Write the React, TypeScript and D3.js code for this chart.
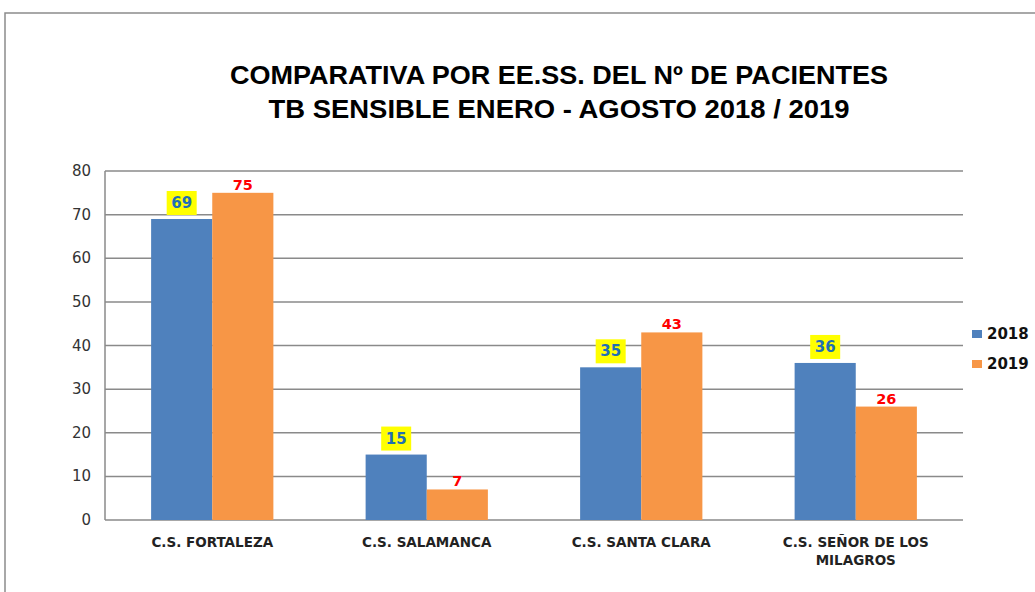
import React, { useEffect, useRef } from "react";
import * as d3 from "d3";

const categories = ["C.S. FORTALEZA", "C.S. SALAMANCA", "C.S. SANTA CLARA", "C.S. SEÑOR DE LOS|MILAGROS"];
const seriesNames = ["2018", "2019"];
const values2018 = [69, 15, 35, 36];
const values2019 = [75, 7, 43, 26];
const yTicks = [0, 10, 20, 30, 40, 50, 60, 70, 80];
const titleLines = ["COMPARATIVA POR EE.SS. DEL Nº DE PACIENTES", "TB SENSIBLE ENERO - AGOSTO 2018 / 2019"];

const colors = ["#4f81bd", "#f79646"];

const App = () => {
    const svgRef = useRef<SVGSVGElement>(null);

    useEffect(() => {
        const width = 1035;
        const height = 592;
        const svg = d3.select(svgRef.current);
        svg.selectAll("*").remove();

        // marco del gráfico
        svg.append("path")
            .attr("d", `M5,${height} L5,13 L${width},13`)
            .attr("fill", "none")
            .attr("stroke", "#8c8c8c")
            .attr("stroke-width", 1.5);

        // título (ancho ajustado al original)
        const titleWidths = [658, 581];
        svg.selectAll("text.title")
            .data(titleLines)
            .enter().append("text")
            .attr("class", "title")
            .attr("x", (d, i) => 559 - titleWidths[i] / 2)
            .attr("y", (d, i) => 84 + i * 34)
            .attr("textLength", (d, i) => titleWidths[i])
            .attr("lengthAdjust", "spacingAndGlyphs")
            .attr("font-family", "'Liberation Sans Narrow', 'Arial Narrow', sans-serif")
            .attr("font-weight", "bold")
            .attr("font-size", 26)
            .attr("fill", "#000")
            .text(d => d);

        const left = 105, right = 963, top = 171, bottom = 520;

        const x = d3.scaleBand()
            .domain(categories)
            .range([left, right])
            .paddingInner(0.43)
            .paddingOuter(0.215);

        const x1 = d3.scaleBand()
            .domain(seriesNames)
            .range([0, x.bandwidth()]);

        const y = d3.scaleLinear()
            .domain([0, 80])
            .range([bottom, top]);

        // líneas de cuadrícula
        svg.selectAll("line.grid")
            .data(yTicks)
            .enter().append("line")
            .attr("class", "grid")
            .attr("x1", left)
            .attr("x2", right)
            .attr("y1", d => y(d))
            .attr("y2", d => y(d))
            .attr("stroke", "#8a8a8a")
            .attr("stroke-width", 1.5);

        svg.append("line")
            .attr("x1", left).attr("x2", left)
            .attr("y1", top).attr("y2", bottom)
            .attr("stroke", "#8a8a8a")
            .attr("stroke-width", 1.5);

        // etiquetas eje Y
        svg.selectAll("text.ytick")
            .data(yTicks)
            .enter().append("text")
            .attr("class", "ytick")
            .attr("x", 91)
            .attr("y", d => y(d) + 5)
            .attr("text-anchor", "end")
            .attr("font-family", "'DejaVu Sans', Verdana, sans-serif")
            .attr("font-size", 15)
            .attr("fill", "#333")
            .text(d => d);

        const series = [values2018, values2019];

        // barras
        series.forEach((vals, si) => {
            svg.selectAll(`rect.bar${si}`)
                .data(vals)
                .enter().append("rect")
                .attr("class", `bar${si}`)
                .attr("x", (d, i) => (x(categories[i]) as number) + (x1(seriesNames[si]) as number))
                .attr("y", d => y(d))
                .attr("width", x1.bandwidth())
                .attr("height", d => bottom - y(d))
                .attr("fill", colors[si]);
        });

        // etiquetas 2018 con fondo amarillo
        const lab18 = svg.selectAll("g.lab18")
            .data(values2018)
            .enter().append("g")
            .attr("class", "lab18")
            .attr("transform", (d, i) => {
                const cx = (x(categories[i]) as number) + (x1("2018") as number) + x1.bandwidth() / 2;
                return `translate(${cx},${y(d) - 16})`;
            });
        lab18.append("rect")
            .attr("x", -15).attr("y", -12)
            .attr("width", 30).attr("height", 24)
            .attr("fill", "#ffff00");
        lab18.append("text")
            .attr("y", 5)
            .attr("text-anchor", "middle")
            .attr("font-family", "'DejaVu Sans', Verdana, sans-serif")
            .attr("font-weight", "bold")
            .attr("font-size", 15)
            .attr("fill", "#1f6fb4")
            .text(d => d);

        // etiquetas 2019 en rojo
        svg.selectAll("text.lab19")
            .data(values2019)
            .enter().append("text")
            .attr("class", "lab19")
            .attr("x", (d, i) => (x(categories[i]) as number) + (x1("2019") as number) + x1.bandwidth() / 2)
            .attr("y", d => y(d) - 3)
            .attr("text-anchor", "middle")
            .attr("font-family", "'DejaVu Sans', Verdana, sans-serif")
            .attr("font-weight", "bold")
            .attr("font-size", 14.5)
            .attr("fill", "#ff0000")
            .text(d => d);

        // etiquetas de categoría
        const cat = svg.selectAll("text.cat")
            .data(categories)
            .enter().append("text")
            .attr("class", "cat")
            .attr("x", d => (x(d) as number) + x.bandwidth() / 2)
            .attr("y", 547)
            .attr("text-anchor", "middle")
            .attr("font-family", "'DejaVu Sans', Verdana, sans-serif")
            .attr("font-weight", "bold")
            .attr("font-size", 13.5)
            .attr("fill", "#222");
        cat.each(function (d) {
            const parts = d.split("|");
            const cx = (x(d) as number) + x.bandwidth() / 2;
            parts.forEach((p, i) => {
                d3.select(this).append("tspan")
                    .attr("x", cx)
                    .attr("dy", i === 0 ? 0 : 18)
                    .text(p);
            });
        });

        // leyenda
        const legend = svg.selectAll("g.legend")
            .data(seriesNames)
            .enter().append("g")
            .attr("class", "legend")
            .attr("transform", (d, i) => `translate(972,${330 + i * 30})`);
        legend.append("rect")
            .attr("width", 10).attr("height", 8)
            .attr("fill", (d, i) => colors[i]);
        legend.append("text")
            .attr("x", 15)
            .attr("y", 9)
            .attr("font-family", "'DejaVu Sans', Verdana, sans-serif")
            .attr("font-weight", "bold")
            .attr("font-size", 15)
            .attr("fill", "#111")
            .text(d => d);
    }, []);

    return (
        <svg
            ref={svgRef}
            width={1035}
            height={592}
            style={{ position: "absolute", left: 0, top: 0, background: "#fff" }}
        ></svg>
    );
};

export default App;
